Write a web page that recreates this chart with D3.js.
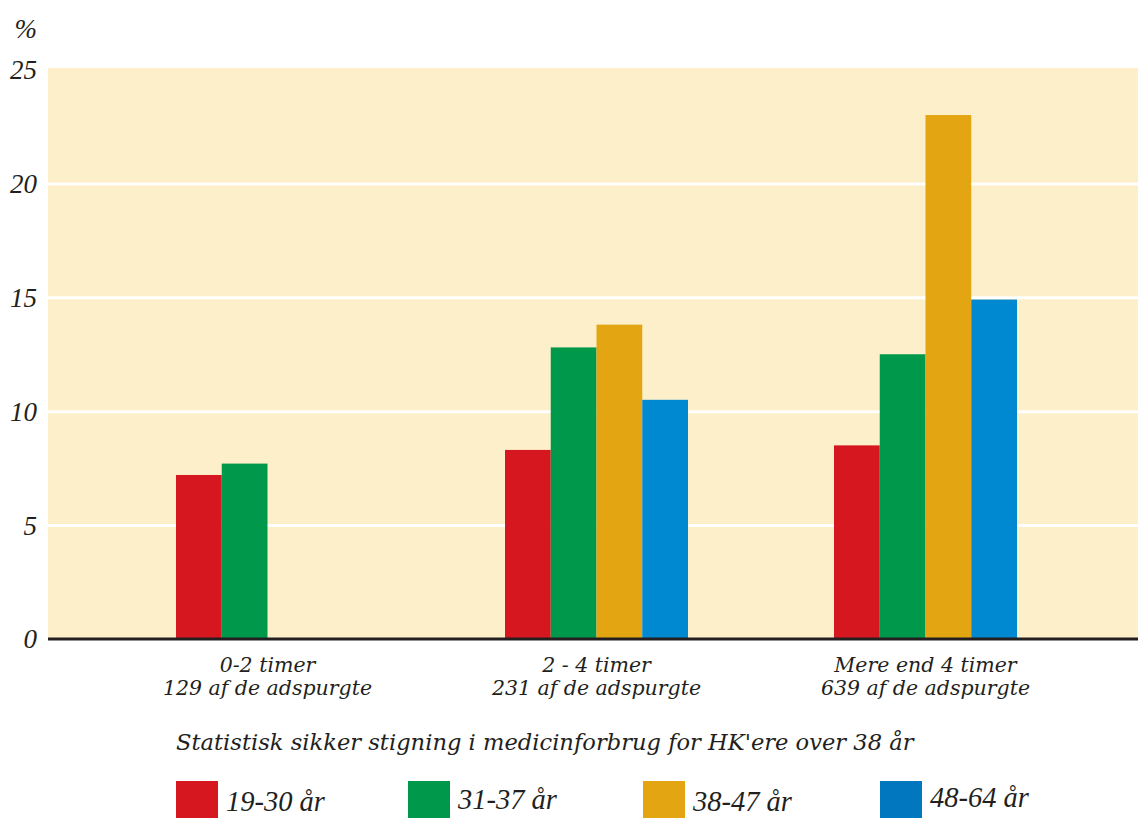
<!DOCTYPE html>
<html>
<head>
<meta charset="utf-8">
<script src="https://cdn.jsdelivr.net/npm/d3@7"></script>
<style>
  html, body { margin: 0; padding: 0; background: #ffffff; }
  svg { display: block; }
  text { font-family: "Liberation Serif", serif; font-style: italic; fill: #231f20; }
  .wide { font-family: "DejaVu Serif", serif; }
</style>
</head>
<body>
<svg id="chart" width="1138" height="818"></svg>
<script>
// kategorier (to linjer pr. gruppe)
const categories = ['0-2 timer', '2 - 4 timer', 'Mere end 4 timer'];
const respondents = ['129 af de adspurgte', '231 af de adspurgte', '639 af de adspurgte'];

// aldersgrupper og serier (null = ingen søjle)
const ageGroups = ['19-30 år', '31-37 år', '38-47 år', '48-64 år'];
const age19to30 = [7.2, 8.3, 8.5];
const age31to37 = [7.7, 12.8, 12.5];
const age38to47 = [null, 13.8, 23.0];
const age48to64 = [null, 10.5, 14.9];

const yTicks = [0, 5, 10, 15, 20, 25];
const note = 'Statistisk sikker stigning i medicinforbrug for HK\'ere over 38 år';

const barColors = ['#d7171f', '#00994c', '#e3a612', '#0088d1'];
const legendColors = ['#d7171f', '#00994c', '#e3a612', '#0077bf'];

const series = [age19to30, age31to37, age38to47, age48to64];

const svg = d3.select('#chart');
const plot = { left: 48, right: 1138, top: 68, bottom: 639 };

// skalaer
const yScale = d3.scaleLinear().domain([0, 25]).range([plot.bottom, 69.5]);
const x0 = d3.scaleBand().domain(categories).range([103, 1090]).padding(0);
const groupWidth = 183;
const x1 = d3.scaleBand().domain(ageGroups).range([0, groupWidth]).padding(0);

// baggrund
svg.append('rect')
  .attr('x', plot.left).attr('y', plot.top)
  .attr('width', plot.right - plot.left).attr('height', plot.bottom - plot.top)
  .attr('fill', '#fdefc9');

// hvide gitterlinjer
const yGrid = d3.axisRight(yScale).tickValues(yTicks.filter(d => d > 0 && d < 25))
  .tickSize(plot.right - plot.left).tickFormat('');
const gGrid = svg.append('g').attr('transform', `translate(${plot.left},0)`).call(yGrid);
gGrid.select('.domain').remove();
gGrid.selectAll('.tick line').attr('stroke', '#ffffff').attr('stroke-width', 3);

// y-akse tekster
const yAxis = d3.axisLeft(yScale).tickValues(yTicks).tickSize(0).tickPadding(0);
const gY = svg.append('g').attr('transform', 'translate(37,0)').call(yAxis);
gY.select('.domain').remove();
gY.selectAll('.tick text')
  .attr('font-family', null)
  .style('font-size', '27px')
  .attr('dy', '0.33em');

svg.append('text').attr('x', 37).attr('y', 38)
  .attr('text-anchor', 'end').style('font-size', '27px').text('%');

// søjler
const groups = svg.append('g').selectAll('g')
  .data(categories)
  .join('g')
  .attr('transform', d => `translate(${x0(d) + (x0.bandwidth() - groupWidth) / 2},0)`);

groups.selectAll('rect')
  .data((d, i) => ageGroups.map((a, j) => ({ age: a, value: series[j][i], color: barColors[j] }))
    .filter(b => b.value !== null))
  .join('rect')
  .attr('x', d => x1(d.age))
  .attr('y', d => yScale(d.value))
  .attr('width', x1.bandwidth())
  .attr('height', d => yScale(0) - yScale(d.value))
  .attr('fill', d => d.color);

// nullinje
svg.append('line')
  .attr('x1', plot.left).attr('x2', plot.right)
  .attr('y1', yScale(0)).attr('y2', yScale(0))
  .attr('stroke', '#231f20').attr('stroke-width', 3);

// kategori tekster
const xAxisLabels = svg.append('g');
categories.forEach((c, i) => {
  const cx = x0(c) + x0.bandwidth() / 2;
  const t = xAxisLabels.append('text').attr('class', 'wide')
    .attr('text-anchor', 'middle').style('font-size', '20.5px');
  t.append('tspan').attr('x', cx).attr('y', 672).text(c);
  t.append('tspan').attr('x', cx).attr('y', 695).text(respondents[i]);
});

// note
svg.append('text').attr('class', 'wide').attr('x', 176).attr('y', 750)
  .style('font-size', '22.6px').text(note);

// forklaring
const legendX = [176, 408, 643, 880];
const legendTextY = [811, 809, 811, 807];
const legend = svg.append('g');
ageGroups.forEach((a, i) => {
  legend.append('rect')
    .attr('x', legendX[i]).attr('y', 781)
    .attr('width', 42).attr('height', 37)
    .attr('fill', legendColors[i]);
  legend.append('text')
    .attr('x', legendX[i] + 50).attr('y', legendTextY[i])
    .style('font-size', '28.5px').text(a);
});
</script>
</body>
</html>
